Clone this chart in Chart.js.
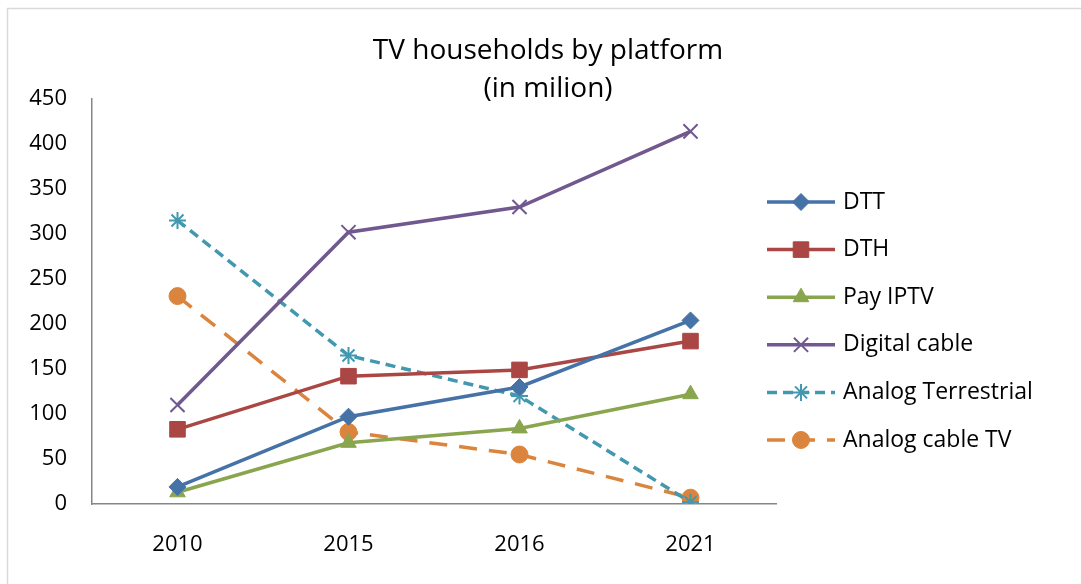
<!DOCTYPE html>
<html lang="en">
	<head>
		<meta charset="UTF-8" />
		<title>TV households by platform</title>
		<style>
			html, body { margin: 0; padding: 0; background: #fff; }
			#chartContainer { width: 1081px; height: 584px; }
		</style>
	</head>
	<body>
		<div id="chartContainer">
			<canvas id="myChart"></canvas>
		</div>
	</body>
	<script src="https://cdn.jsdelivr.net/npm/chart.js"></script>

	<script>
		// data
		var years = ['2010', '2015', '2016', '2021'];
		var dtt = [19, 97, 130, 204];
		var dth = [83, 142, 149, 181];
		var payIptv = [13, 68, 84, 122];
		var digitalCable = [110, 302, 330, 414];
		var analogTerrestrial = [315, 165, 120, 2];
		var analogCable = [231, 80, 55, 7];

		var titleLines = ['TV households by platform', '(in milion)'];
		var fontFamily = "'Open Sans', 'Noto Sans', sans-serif";

		function series(label, data, color, style, radius, dash, extra) {
			var ds = {
				label: label,
				data: data,
				borderColor: color,
				backgroundColor: color,
				pointBackgroundColor: color,
				pointBorderColor: color,
				borderWidth: 3.5,
				pointStyle: style,
				pointRadius: radius,
				pointHoverRadius: radius,
				pointBorderWidth: 1,
				borderDash: dash || [],
				tension: 0,
				fill: false,
			};
			return Object.assign(ds, extra || {});
		}

		var datasets = [
			series('DTT', dtt, '#4572A7', 'rectRot', 8.5),
			series('DTH', dth, '#AA4643', 'rect', 11),
			series('Pay IPTV', payIptv, '#89A54E', 'triangle', 9),
			series('Digital cable', digitalCable, '#71588F', 'crossRot', 10, [], { pointBorderWidth: 2 }),
			series('Analog Terrestrial', analogTerrestrial, '#4198AF', 'star', 8.5, [10, 6], { pointBorderWidth: 2 }),
			series('Analog cable TV', analogCable, '#DB843D', 'circle', 8.5, [18, 12]),
		];

		// frame, title and line+marker legend, drawn on the canvas
		var decorations = {
			id: 'decorations',
			beforeDraw: function (chart) {
				var ctx = chart.ctx;
				ctx.save();
				ctx.strokeStyle = '#d9d9d9';
				ctx.lineWidth = 1.5;
				ctx.strokeRect(7.5, 8.5, 1090, 590);
				ctx.restore();
			},
			afterDraw: function (chart) {
				var ctx = chart.ctx;
				ctx.save();
				ctx.fillStyle = '#000';
				ctx.font = '28px ' + fontFamily;
				ctx.textAlign = 'center';
				ctx.textBaseline = 'middle';
				ctx.fillText(titleLines[0], 548, 51);
				ctx.fillText(titleLines[1], 548, 89);

				chart.data.datasets.forEach(function (ds, i) {
					var y = 202 + i * 47.6;
					ctx.save();
					ctx.strokeStyle = ds.borderColor;
					ctx.lineWidth = ds.borderWidth;
					ctx.lineCap = 'butt';
					ctx.setLineDash(ds.borderDash);
					ctx.beginPath();
					ctx.moveTo(767, y);
					ctx.lineTo(835, y);
					ctx.stroke();
					ctx.restore();

					ctx.save();
					ctx.fillStyle = ds.pointBackgroundColor;
					ctx.strokeStyle = ds.pointBorderColor;
					ctx.lineWidth = ds.pointBorderWidth;
					Chart.helpers.drawPoint(ctx, {
						pointStyle: ds.pointStyle,
						radius: ds.pointRadius,
						rotation: 0,
						borderWidth: ds.pointBorderWidth,
					}, 801, y);
					ctx.restore();

					ctx.fillStyle = '#000';
					ctx.font = '23px ' + fontFamily;
					ctx.textAlign = 'left';
					ctx.fillText(ds.label, 843, y);
				});
				ctx.restore();
			},
		};

		var config = {
			type: 'line',
			data: { labels: years, datasets: datasets },
			options: {
				responsive: true,
				maintainAspectRatio: false,
				animation: false,
				layout: { padding: { left: 0, top: 99, right: 305, bottom: 0 } },
				plugins: {
					legend: { display: false },
					title: { display: false },
					tooltip: { enabled: false },
				},
				scales: {
					x: {
						offset: true,
						grid: { display: false, drawTicks: false },
						border: { display: true, color: '#868686', width: 1.5 },
						ticks: { color: '#000', font: { family: fontFamily, size: 22 }, padding: 28 },
						afterFit: function (scale) { scale.height = 80; },
					},
					y: {
						min: 0,
						max: 450,
						ticks: { stepSize: 50, color: '#000', font: { family: fontFamily, size: 22 }, padding: 25 },
						grid: { display: false, drawTicks: false },
						border: { display: true, color: '#868686', width: 1.5 },
						afterFit: function (scale) { scale.width = 92; },
					},
				},
			},
			plugins: [decorations],
		};

		var myChart = new Chart(document.getElementById('myChart'), config);
	</script>
</html>
